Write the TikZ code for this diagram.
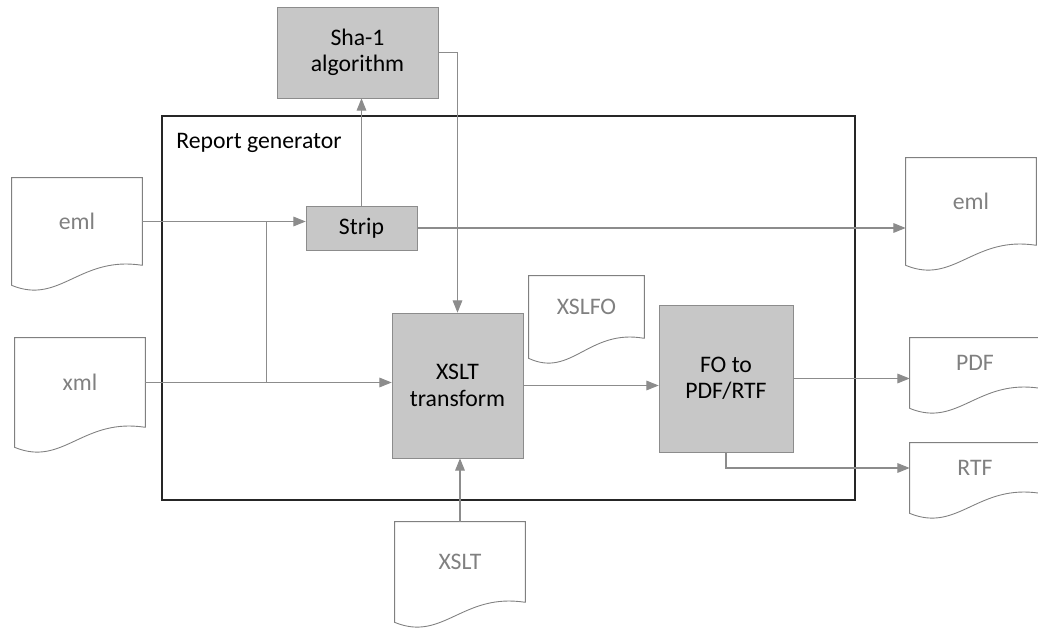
\documentclass[tikz,border=0pt]{standalone}
\usepackage{fontspec}
\setmainfont{Carlito}
\usetikzlibrary{arrows.meta, calc}
% outline of a document symbol round a named node
\newcommand\docoutline[1]{%
  \draw[docline] (#1.south east) -- (#1.north east) -- (#1.north west) -- ([yshift=-0.4cm]#1.south west)
    .. controls ($(#1.south west)!0.37!(#1.south east)+(0,-0.8cm)$) and ($(#1.south west)!0.52!(#1.south east)+(0,0.2cm)$) .. (#1.south east);%
}
\begin{document}
\begin{tikzpicture}[
    x=0.02cm, y=-0.02cm,
    >={Triangle[length=7pt,width=5.5pt]},
    arr/.style={->, draw=black!45, line width=0.6pt},
    lnk/.style={draw=black!45, line width=0.6pt},
    proc/.style={draw=black!45, fill=black!22, font=\fontsize{13.5}{15}\selectfont, align=center, inner sep=0pt},
    doc/.style={font=\fontsize{13.5}{15}\selectfont, text=black!50, inner sep=0pt},
    docline/.style={draw=black!50, line width=0.5pt},
    frm/.style={draw=black!85, line width=0.9pt, inner sep=0pt},
    ttl/.style={font=\fontsize{13.5}{15}\selectfont, anchor=west, inner sep=0pt},
]
\useasboundingbox (0,0) rectangle (1038,635);
% --- report generator frame ---
\node[frm, minimum width=13.86cm, minimum height=7.68cm] (gen) at (508.5,308) {};
\node[ttl] (gentitle) at (176,143) {Report generator};
% --- processing boxes ---
\node[proc, minimum width=3.22cm, minimum height=1.82cm] (sha) at (357.5,52.5) {Sha-1\\algorithm};
\node[proc, minimum width=2.22cm, minimum height=0.88cm] (strip) at (361.5,228) {Strip};
\node[proc, minimum width=2.62cm, minimum height=2.9cm] (xslt) at (457.5,385.5) {XSLT\\transform};
\node[proc, minimum width=2.68cm, minimum height=2.94cm] (fo) at (726,378.5) {FO to\\PDF/RTF};
% --- documents ---
\node[doc, minimum width=2.6cm, minimum height=1.74cm] (emlin) at (77,221.5) {eml};
\node[doc, minimum width=2.6cm, minimum height=1.78cm] (xml) at (80,382.5) {xml};
\node[doc, minimum width=2.3cm, minimum height=1.24cm] (xslfo) at (586.5,307) {XSLFO};
\node[doc, minimum width=2.6cm, minimum height=1.6cm] (xsltdoc) at (460,562) {XSLT};
\node[doc, minimum width=2.6cm, minimum height=1.74cm] (emlout) at (971,201.5) {eml};
\node[doc, minimum width=2.6cm, minimum height=1.0cm] (pdf) at (975,363) {PDF};
\node[doc, minimum width=2.6cm, minimum height=1.0cm] (rtf) at (975,468) {RTF};
\foreach \d in {emlin,xml,xslfo,xsltdoc,emlout,pdf,rtf} {\docoutline{\d}}
% --- connectors ---
\draw[arr] (emlin.east) -- (emlin.east -| strip.west);
\coordinate (split) at ($(emlin.east -| strip.west)+(-39,0)$);
\draw[lnk] (split) -- (split |- xml.east);
\draw[arr] (xml.east) -- (xml.east -| xslt.west);
\draw[arr] (strip.north) -- (strip.north |- sha.south);
\draw[arr] (sha.east) -| (xslt.north);
\draw[arr] (strip.east) -- (strip.east -| emlout.west);
\draw[arr] (xsltdoc.north) -- (xsltdoc.north |- xslt.south);
\draw[arr] (xslt.east) -- (xslt.east -| fo.west);
\draw[arr] (fo.east) -- (fo.east -| pdf.west);
\draw[arr] (fo.south) |- (rtf.west);
\end{tikzpicture}
\end{document}
